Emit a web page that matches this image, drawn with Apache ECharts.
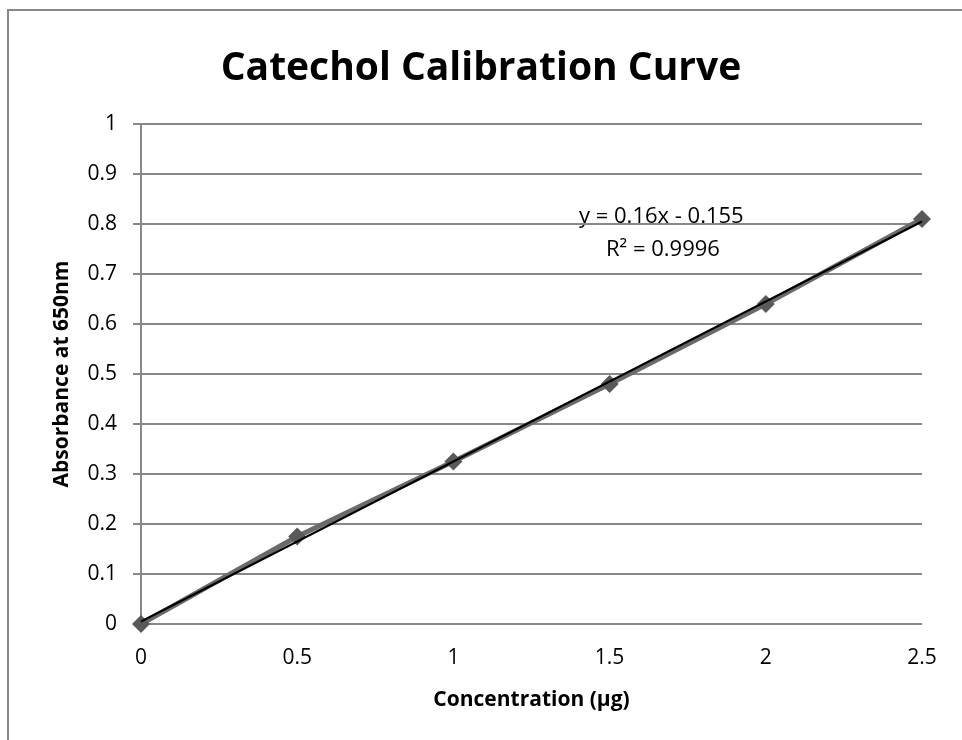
<!DOCTYPE html>
<html>
<head>
<meta charset="utf-8">
<style>
  html, body { margin: 0; padding: 0; background: #fff; }
  #chart { width: 962px; height: 740px; }
</style>
<script src="https://cdn.jsdelivr.net/npm/echarts@6/dist/echarts.min.js"></script>
</head>
<body>
<div id="chart"></div>
<script>
// measured points
var concentration = [0, 0.5, 1, 1.5, 2, 2.5];
var absorbance = [0, 0.175, 0.325, 0.48, 0.64, 0.81];

// linear trendline ends (y = 0.16x - 0.155 on point index)
var trendX = [0, 2.5];
var trendY = [0.005, 0.805];

var equationText = 'y = 0.16x - 0.155';
var r2Text = 'R² = 0.9996';

var font = 'Open Sans';

var myChart = echarts.init(document.getElementById('chart'));

var option = {
	animation: false,
	backgroundColor: '#fff',
	title: {
		text: 'Catechol Calibration Curve',
		left: 'center',
		top: 44,
		textStyle: {
			fontFamily: font,
			fontWeight: 'bold',
			fontSize: 39,
			color: '#000'
		}
	},
	grid: {
		left: 141,
		right: 40,
		top: 124,
		bottom: 116
	},
	xAxis: {
		type: 'value',
		min: 0,
		max: 2.5,
		interval: 0.5,
		name: 'Concentration (µg)',
		nameLocation: 'middle',
		nameGap: 66,
		nameTextStyle: {
			fontFamily: font,
			fontWeight: 'bold',
			fontSize: 21,
			color: '#000'
		},
		axisLine: { show: false },
		axisTick: { show: false },
		splitLine: { show: false },
		axisLabel: {
			margin: 24,
			fontFamily: font,
			fontSize: 21,
			color: '#000',
			formatter: function (v) { return String(v); }
		}
	},
	yAxis: {
		type: 'value',
		min: 0,
		max: 1,
		interval: 0.1,
		name: 'Absorbance at 650nm',
		nameLocation: 'middle',
		nameGap: 68,
		nameTextStyle: {
			fontFamily: font,
			fontWeight: 'bold',
			fontSize: 21,
			color: '#000'
		},
		axisLine: { show: true, lineStyle: { color: '#888', width: 2 } },
		axisTick: { show: true, length: 8, lineStyle: { color: '#888', width: 2 } },
		splitLine: { show: true, lineStyle: { color: '#888', width: 2 } },
		axisLabel: {
			margin: 24,
			fontFamily: font,
			fontSize: 21,
			color: '#000',
			formatter: function (v) { return String(Math.round(v * 10) / 10); }
		}
	},
	series: [{
		name: 'Absorbance',
		type: 'line',
		data: concentration.map(function (x, i) { return [x, absorbance[i]]; }),
		symbol: 'diamond',
		symbolSize: 18,
		itemStyle: { color: '#595959' },
		lineStyle: { color: '#6a6a6a', width: 5 },
		z: 2
	}, {
		name: 'Trendline',
		type: 'line',
		data: trendX.map(function (x, i) { return [x, trendY[i]]; }),
		symbol: 'none',
		lineStyle: { color: '#000', width: 2 },
		z: 3
	}],
	graphic: [{
		type: 'rect',
		shape: { x: 8, y: 10, width: 1000, height: 800 },
		style: { fill: 'none', stroke: '#888', lineWidth: 2 },
		silent: true,
		z: -1
	}, {
		type: 'text',
		left: 579,
		top: 206,
		style: { text: equationText, fontFamily: font, fontSize: 22, fill: '#000' }
	}, {
		type: 'text',
		left: 606,
		top: 239,
		style: { text: r2Text, fontFamily: font, fontSize: 22, fill: '#000' }
	}]
};

myChart.setOption(option);
</script>
</body>
</html>
